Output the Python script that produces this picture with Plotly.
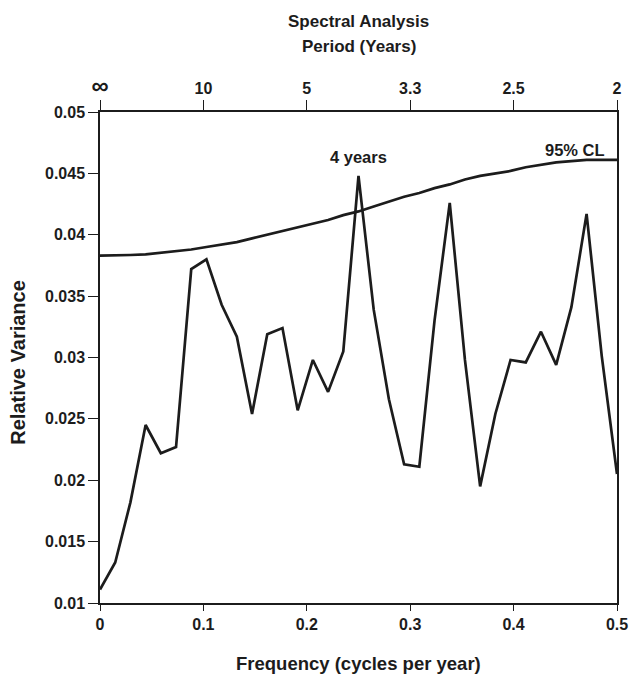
import plotly.graph_objects as go

# Frequencies k/68, k = 0..34 (cycles per year)
freq = [k / 68 for k in range(35)]

variance = [0.0111, 0.0133, 0.0182, 0.0245, 0.0222, 0.0227, 0.0372, 0.0380,
            0.0343, 0.0317, 0.0254, 0.0319, 0.0324, 0.0257, 0.0298, 0.0272,
            0.0305, 0.0448, 0.0339, 0.0266, 0.0213, 0.0211, 0.0330, 0.0426,
            0.0298, 0.0195, 0.0254, 0.0298, 0.0296, 0.0321, 0.0294, 0.0341,
            0.0417, 0.0301, 0.0205]

cl95 = [0.0383, 0.0383, 0.03835, 0.0384, 0.03853, 0.0387, 0.0388, 0.0390,
        0.0392, 0.0394, 0.0397, 0.0400, 0.0403, 0.0406, 0.0409, 0.0412,
        0.0416, 0.0419, 0.0423, 0.0427, 0.0431, 0.0434, 0.0438, 0.0441,
        0.0445, 0.0448, 0.0450, 0.0452, 0.0455, 0.0457, 0.0459, 0.0460,
        0.0461, 0.0461, 0.0461]

bottom_ticks = [0, 0.1, 0.2, 0.3, 0.4, 0.5]
bottom_labels = ["0", "0.1", "0.2", "0.3", "0.4", "0.5"]
top_labels = ['<span style="font-size:24px">∞</span>', "10", "5", "3.3", "2.5", "2"]
y_ticks = [0.01, 0.015, 0.02, 0.025, 0.03, 0.035, 0.04, 0.045, 0.05]
y_labels = ["0.01", "0.015", "0.02", "0.025", "0.03", "0.035", "0.04", "0.045", "0.05"]

INK = "#1c1c1c"
FONT = "Liberation Sans, Arial, sans-serif"

fig = go.Figure()
fig.add_trace(go.Scatter(x=freq, y=cl95, mode="lines",
                         line=dict(color=INK, width=2.7), hoverinfo="skip"))
fig.add_trace(go.Scatter(x=freq, y=variance, mode="lines",
                         line=dict(color=INK, width=2.7), hoverinfo="skip"))
# invisible trace to activate top axis
fig.add_trace(go.Scatter(x=[0, 0.5], y=[0.01, 0.01], xaxis="x2", mode="lines",
                         line=dict(width=0), showlegend=False, hoverinfo="skip"))

axis_font = dict(family=FONT, size=16, color=INK, weight="bold")

fig.update_layout(
    width=631, height=675,
    margin=dict(l=100, r=14, t=112, b=72, autoexpand=False),
    paper_bgcolor="white", plot_bgcolor="white",
    showlegend=False,
    font=dict(family=FONT, color=INK),
    xaxis=dict(range=[0, 0.5], tickvals=bottom_ticks, ticktext=bottom_labels,
               ticks="outside", ticklen=6, tickwidth=1.2, tickcolor=INK,
               showline=True, linecolor=INK, linewidth=1.5, mirror=False,
               showgrid=False, zeroline=False, tickfont=axis_font,
               automargin=False),
    xaxis2=dict(range=[0, 0.5], overlaying="x", side="top",
                tickvals=bottom_ticks, ticktext=top_labels,
                ticks="outside", ticklen=10, tickwidth=1.2, tickcolor=INK,
                showline=True, linecolor=INK, linewidth=1.5,
                showgrid=False, zeroline=False, tickfont=axis_font,
                automargin=False),
    yaxis=dict(range=[0.01, 0.05], tickvals=y_ticks, ticktext=y_labels,
               ticks="outside", ticklen=10, tickwidth=1.2, tickcolor=INK,
               showline=True, linecolor=INK, linewidth=1.5, mirror=True,
               showgrid=False, zeroline=False, tickfont=axis_font,
               automargin=False),
)

title_font = dict(family=FONT, size=17, color=INK, weight="bold")
fig.add_annotation(text="Spectral Analysis", xref="paper", yref="paper",
                   x=0.5, y=1.184, showarrow=False, font=title_font,
                   xanchor="center", yanchor="middle")
fig.add_annotation(text="Period (Years)", xref="paper", yref="paper",
                   x=0.5, y=1.1335, showarrow=False, font=title_font,
                   xanchor="center", yanchor="middle")
fig.add_annotation(text="Frequency (cycles per year)", xref="paper", yref="paper",
                   x=0.5, y=-0.124, showarrow=False,
                   font=dict(family=FONT, size=18.5, color=INK, weight="bold"),
                   xanchor="center", yanchor="middle")
fig.add_annotation(text="Relative Variance", xref="paper", yref="paper",
                   x=-0.158, y=0.49, showarrow=False,
                   font=dict(family=FONT, size=20, color=INK, weight="bold"),
                   textangle=-90, xanchor="center", yanchor="middle")
fig.add_annotation(text="4 years", x=0.25, y=0.0463, showarrow=False,
                   font=dict(family=FONT, size=16.5, color=INK, weight="bold"),
                   xanchor="center", yanchor="middle")
fig.add_annotation(text="95% CL", x=0.4903, y=0.04694, showarrow=False,
                   font=dict(family=FONT, size=16.5, color=INK, weight="bold"),
                   xanchor="right", yanchor="middle")

fig.write_html(
    "out.html",
    config={"displayModeBar": False},
    post_script="document.body.style.margin='0';document.body.style.overflow='hidden';",
)
